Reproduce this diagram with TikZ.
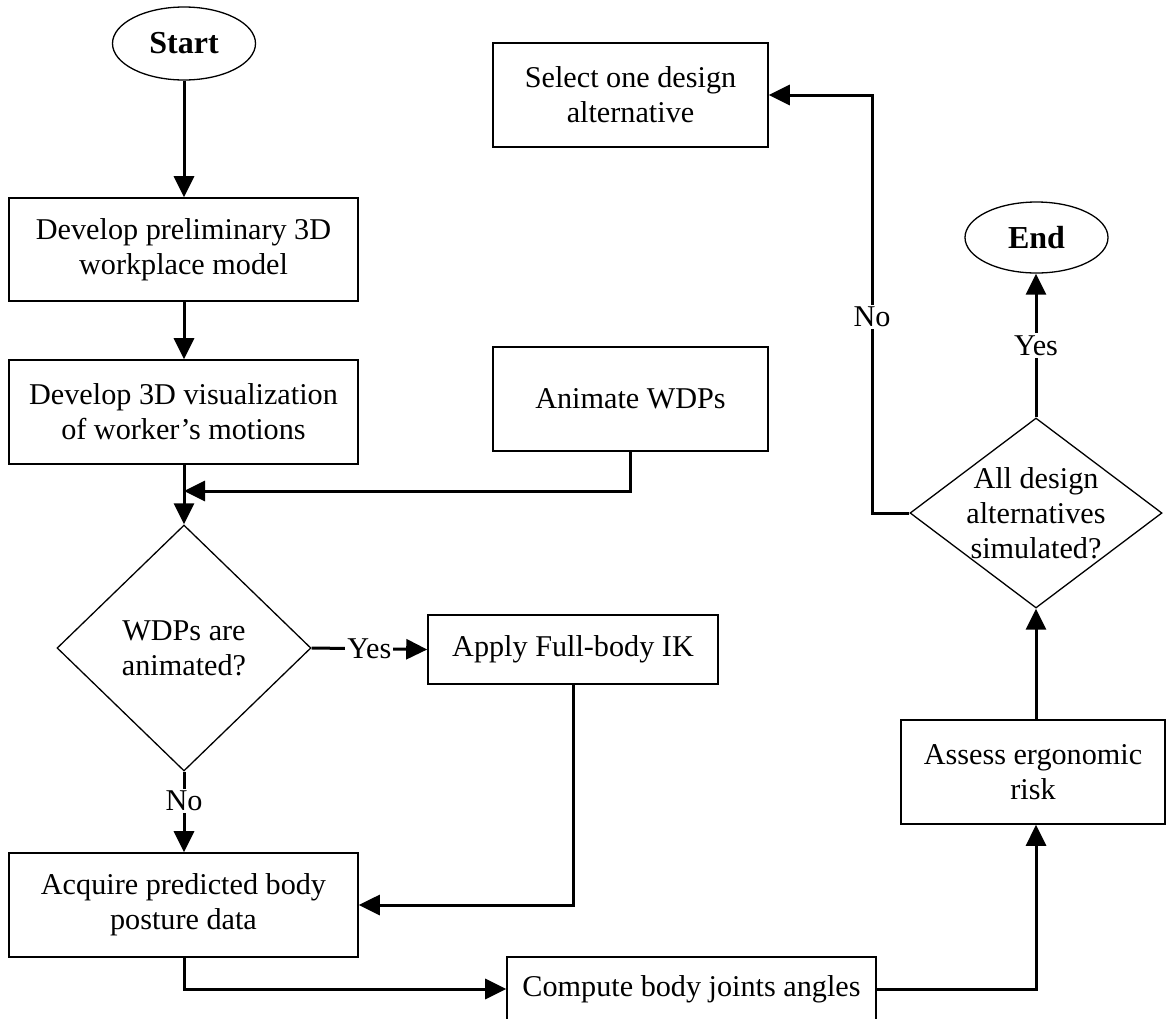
\documentclass[tikz,border=0pt]{standalone}
\usepackage{fontspec}
\setmainfont{Liberation Serif}
\usetikzlibrary{arrows.meta,shapes.geometric,calc}
\begin{document}
\begin{tikzpicture}[x=1pt,y=-1pt,
  font=\fontsize{30.2}{35}\selectfont,
  box/.style={draw,line width=1.6pt,rectangle,inner sep=0pt,align=center},
  term/.style={draw,line width=1.3pt,ellipse,inner sep=0pt,font=\fontsize{32}{38}\selectfont\bfseries},
  dia/.style={draw,line width=1.3pt,diamond,inner sep=0pt},
  conn/.style={line width=3pt},
  arr/.style={conn,-{Triangle[length=21pt,width=20pt]}},
  lbl/.style={fill=white,inner sep=2pt}]
\useasboundingbox (0,0) rectangle (1166,1018);
% terminals
\node[term,minimum width=143pt,minimum height=73pt] (start) at (184,43.5) {Start};
\node[term,minimum width=143pt,minimum height=71pt] (end) at (1036.5,237.5) {End};
% left column
\node[box,minimum width=349pt,minimum height=103pt] (b1) at (183.5,249.5) {Develop preliminary 3D\\workplace model};
\node[box,minimum width=349pt,minimum height=104pt] (b2) at (183.5,412) {Develop 3D visualization\\of worker’s motions};
\node[dia,minimum width=254pt,minimum height=246pt] (d1) at (184,648) {};
\node[align=center] (d1t) at (d1.center) {WDPs are\\animated?};
\node[box,minimum width=349pt,minimum height=104pt] (ac) at (183.5,905) {Acquire predicted body\\posture data};
% middle column
\node[box,minimum width=275pt,minimum height=104pt] (sel) at (630.5,95) {Select one design\\alternative};
\node[box,minimum width=275pt,minimum height=104pt] (an) at (630.5,399) {Animate WDPs};
\node[box,minimum width=290pt,minimum height=69pt] (ik) at (573,649.5) {Apply Full-body IK};
\node[box,minimum width=369pt,minimum height=64pt] (cb) at (691.5,989) {Compute body joints angles};
% right column
\node[box,minimum width=264pt,minimum height=104pt] (as) at (1033,772) {Assess ergonomic\\risk};
\node[dia,minimum width=252pt,minimum height=190pt] (d2) at (1036,513) {};
\node[align=center] (d2t) at (d2.center) {All design\\alternatives\\simulated?};
% helper coordinates
\coordinate (merge) at (184,491);
\coordinate (nocorner) at (872,95);
% connectors
\draw[arr] (start.south) -- (start.south |- b1.north);
\draw[arr] (b1.south -| start.south) -- (start.south |- b2.north);
\draw[arr] (b2.south -| d1.north) -- (d1.north);
\draw[arr] (an.south) |- (merge);
\draw[arr] (d1.east) -- node[lbl,midway]{Yes} (ik.west);
\draw[arr] (d1.south) -- node[lbl,pos=0.36]{No} (d1.south |- ac.north);
\draw[arr] (ik.south) |- (ac.east);
\draw[arr] (ac.south -| d1.south) |- (cb.west);
\draw[arr] (cb.east) -| ([xshift=3pt]as.south);
\draw[arr] ([xshift=3pt]as.north) -- (d2.south);
\draw[arr] (d2.north) -- node[lbl,midway]{Yes} (d2.north |- end.south);
\draw[arr] (d2.west) -- (d2.west -| nocorner) -- node[lbl,pos=0.47]{No} (nocorner) -- (sel.east);
\end{tikzpicture}
\end{document}
